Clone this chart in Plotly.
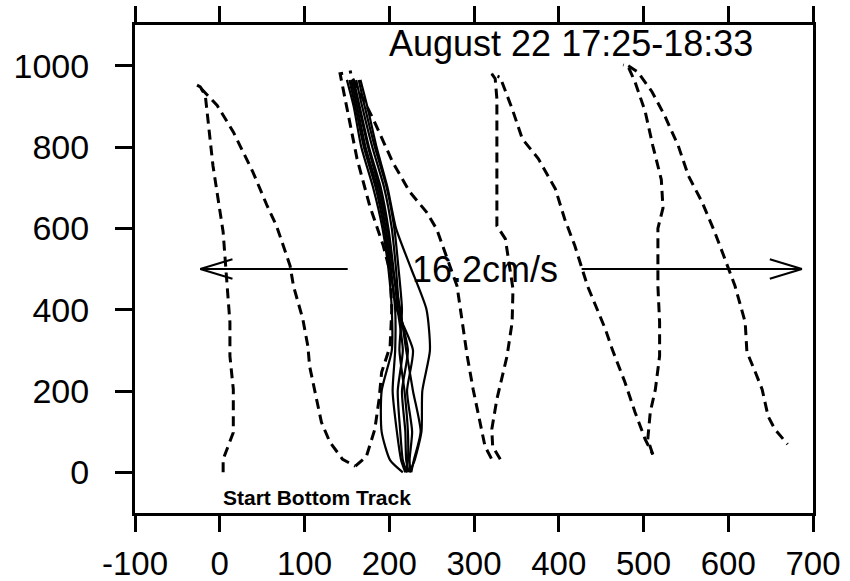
import plotly.graph_objects as go

# ---------------- data ----------------
# Dashed ship track, leg by leg (x, y in m)
leg_a_x = [4, 4, 16, 16, 12, 12, 9, 4, -8, -14, -17, -23, -31]
leg_a_y = [0, 32, 98, 204, 286, 369, 451, 591, 754, 877, 926, 948, 957]

leg_b_x = [-22, -3, 16, 39, 56, 67, 83, 87, 98, 104, 106, 114, 120, 130, 145, 160]
leg_b_y = [944, 902, 837, 739, 655, 606, 508, 458, 377, 310, 261, 180, 123, 74, 32, 15]

leg_c_x = [160, 173, 183, 188, 191, 201, 203, 201, 193, 177, 162, 148, 142, 156]
leg_c_y = [15, 39, 106, 180, 246, 310, 401, 493, 557, 655, 771, 919, 980, 985]

leg_d_x = [157, 181, 204, 224, 244, 256, 280, 286, 292, 299, 307, 313, 321]
leg_d_y = [968, 869, 763, 690, 640, 598, 458, 369, 286, 204, 123, 64, 32]

leg_e_x = [331, 322, 321, 327, 339, 345, 346, 337, 327, 327, 327, 325, 321, 330]
leg_e_y = [32, 64, 106, 180, 286, 369, 451, 574, 606, 754, 919, 968, 980, 972]

leg_f_x = [333, 345, 357, 376, 396, 407, 419, 434, 455, 463, 478, 490, 502, 511]
leg_f_y = [960, 894, 820, 771, 697, 623, 557, 458, 352, 303, 222, 148, 81, 44]

leg_g_x = [511, 505, 508, 514, 519, 519, 517, 517, 523, 521, 511, 502, 490, 482, 476]
leg_g_y = [44, 81, 148, 204, 286, 369, 458, 600, 650, 720, 803, 887, 960, 997, 1002]

leg_h_x = [482, 493, 510, 525, 541, 553, 569, 584, 596, 608, 620, 622, 632, 640, 647, 655, 670]
leg_h_y = [1000, 985, 936, 877, 803, 729, 665, 591, 525, 458, 369, 296, 246, 204, 138, 106, 69]

# Solid bottom-track-referenced tracks (shared depth levels)
bundle_y = [965, 900, 800, 700, 600, 500, 400, 300, 200, 100, 30, 0]
bundle_x_1 = [150, 158, 167, 181, 192, 199, 203, 203, 191, 191, 201, 216]
bundle_x_2 = [155, 162, 172, 186, 196, 202, 207, 207, 204, 209, 214, 219]
bundle_x_3 = [158, 165, 176, 190, 199, 205, 210, 216, 210, 213, 216, 221]
bundle_x_4 = [161, 168, 180, 194, 203, 208, 212, 222, 215, 219, 220, 223]
bundle_x_5 = [153, 160, 170, 184, 194, 201, 209, 228, 221, 227, 224, 225]
bundle_x_6 = [166, 174, 185, 198, 208, 226, 244, 248, 239, 238, 230, 224]
bundle_x_7 = [157, 164, 175, 188, 198, 204, 213, 220, 228, 237, 229, 226]
bundle_x_8 = [164, 171, 183, 197, 206, 211, 215, 212, 218, 222, 222, 220]

x_ticks = [-100, 0, 100, 200, 300, 400, 500, 600, 700]
y_ticks = [0, 200, 400, 600, 800, 1000]

title_text = "August 22 17:25-18:33"
speed_text = "16.2cm/s"
start_text = "Start Bottom Track"

# ---------------- figure ----------------
FONT = "Liberation Sans, Arial, Helvetica, sans-serif"
fig = go.Figure()

dashed_legs = [(leg_a_x, leg_a_y), (leg_b_x, leg_b_y), (leg_c_x, leg_c_y),
               (leg_d_x, leg_d_y), (leg_e_x, leg_e_y), (leg_f_x, leg_f_y),
               (leg_g_x, leg_g_y), (leg_h_x, leg_h_y)]
for lx, ly in dashed_legs:
    fig.add_trace(go.Scatter(x=lx, y=ly, mode="lines",
                             line=dict(color="black", width=3, dash="10px,6px"),
                             showlegend=False, hoverinfo="skip"))

for bx in [bundle_x_1, bundle_x_2, bundle_x_3, bundle_x_4,
           bundle_x_5, bundle_x_6, bundle_x_7, bundle_x_8]:
    fig.add_trace(go.Scatter(x=bx, y=bundle_y, mode="lines",
                             line=dict(color="black", width=2.2, shape="spline", smoothing=0.6),
                             showlegend=False, hoverinfo="skip"))

# speed arrows (open V heads)
arrow_y = 500
left_arrow = (151, -23)
right_arrow = (427, 687)
head_dx, head_dy = 38, 24
shapes = []
for x0, x1 in (left_arrow, right_arrow):
    s = 1 if x1 > x0 else -1
    shapes.append(dict(type="line", x0=x0, x1=x1, y0=arrow_y, y1=arrow_y,
                       line=dict(color="black", width=2)))
    for sgn in (1, -1):
        shapes.append(dict(type="line", x0=x1, y0=arrow_y,
                           x1=x1 - s * head_dx, y1=arrow_y + sgn * head_dy,
                           line=dict(color="black", width=2)))

fig.update_layout(
    width=850, height=581, autosize=False,
    margin=dict(l=135, r=37, t=25, b=68),
    paper_bgcolor="white", plot_bgcolor="white",
    font=dict(family=FONT, color="black"),
    shapes=shapes,
    annotations=[
        dict(x=414, y=1054, text=title_text, showarrow=False,
             font=dict(size=36, family=FONT, color="black")),
        dict(x=313, y=500, text=speed_text, showarrow=False,
             font=dict(size=36, family=FONT, color="black")),
        dict(x=115, y=-62, text="<b>" + start_text + "</b>", showarrow=False,
             font=dict(size=21, family=FONT, color="black")),
    ],
)
fig.update_xaxes(range=[-100, 700], tickvals=x_ticks, ticktext=[str(v) for v in x_ticks],
                 showgrid=False, zeroline=False, showline=True, linecolor="black",
                 linewidth=3, mirror="ticks", ticks="outside", ticklen=16, tickwidth=3,
                 tickcolor="black", tickfont=dict(size=33, family=FONT, color="black"),
                 ticklabelstandoff=3, automargin=False)
fig.update_yaxes(range=[-100, 1100], tickvals=y_ticks, ticktext=[str(v) for v in y_ticks],
                 showgrid=False, zeroline=False, showline=True, linecolor="black",
                 linewidth=3, mirror=True, ticks="outside", ticklen=17, tickwidth=3,
                 tickcolor="black", tickfont=dict(size=34, family=FONT, color="black"),
                 ticklabelstandoff=19, automargin=False)

fig.write_html("out.html", config={"displayModeBar": False},
               post_script="document.body.style.margin='0px';document.body.style.overflow='hidden';")
